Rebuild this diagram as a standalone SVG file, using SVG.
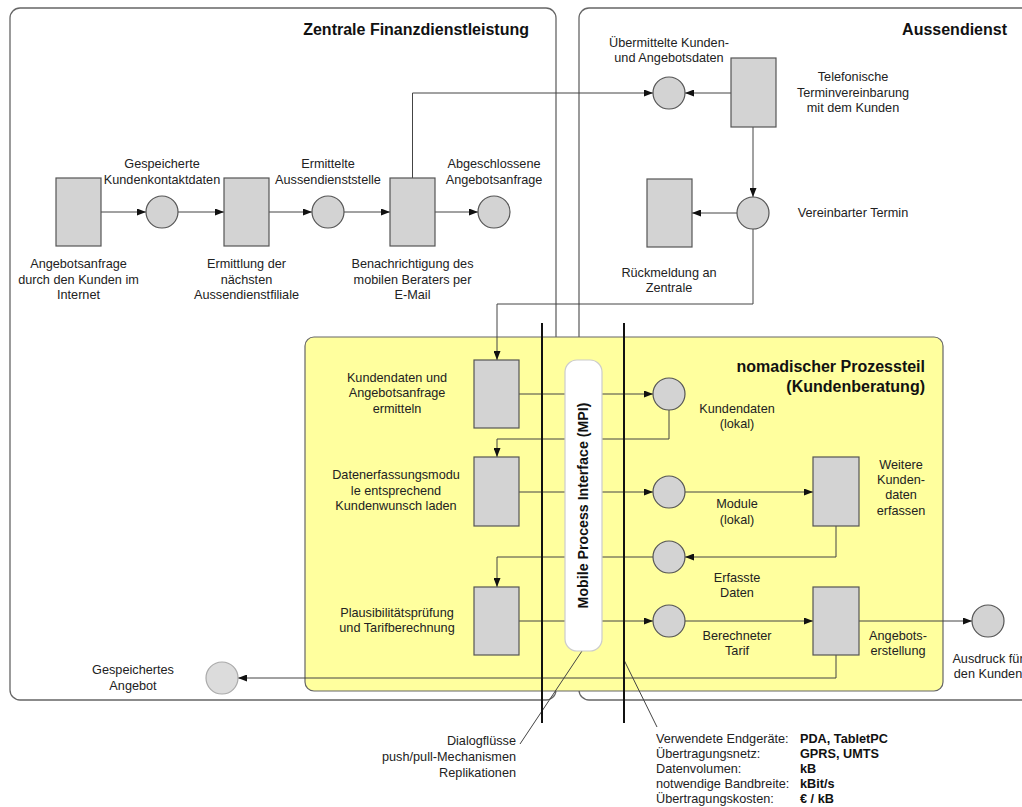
<svg xmlns="http://www.w3.org/2000/svg" width="1022" height="807" viewBox="0 0 1022 807">
<style>
.t{font-family:"Liberation Sans",Arial,sans-serif;font-size:12.7px;fill:#222;text-anchor:middle}
.tl{font-family:"Liberation Sans",Arial,sans-serif;font-size:12.7px;fill:#222}
.tb{font-family:"Liberation Sans",Arial,sans-serif;font-size:12.7px;fill:#111;font-weight:bold}
.title{font-family:"Liberation Sans",Arial,sans-serif;font-size:16px;font-weight:bold;fill:#111;text-anchor:end}
.box{fill:#d3d3d3;stroke:#555;stroke-width:1.2}
.circ{fill:#d3d3d3;stroke:#555;stroke-width:1.2}
.c{fill:none;stroke:#444;stroke-width:1}
.ca{fill:none;stroke:#444;stroke-width:1;marker-end:url(#arr)}
.thick{stroke:#111;stroke-width:2}
.frame{fill:#fff;stroke:#666;stroke-width:1.3}
</style>
<defs>
<marker id="arr" markerUnits="userSpaceOnUse" markerWidth="9" markerHeight="7" refX="9" refY="3.5" orient="auto">
<path d="M0,0 L9,3.5 L0,7 z" fill="#111"/>
</marker>
</defs>
<rect width="1022" height="807" fill="#fff"/>
<g id="zentrale">
<rect class="frame" x="10" y="8" width="546" height="692" rx="10"/>
<text class="title" x="529" y="35">Zentrale Finanzdienstleistung</text>
</g>
<g id="aussendienst">
<rect class="frame" x="579" y="8" width="470" height="692" rx="10"/>
<text class="title" x="1007" y="35">Aussendienst</text>
</g>
<g id="nomadisch">
<rect x="305" y="337" width="638" height="354" rx="9" fill="#ffff9e" stroke="#666" stroke-width="1.2"/>
<text class="title" x="925" y="372">nomadischer Prozessteil</text>
<text class="title" x="925" y="392">(Kundenberatung)</text>
</g>
<g id="connectors">
<line class="ca" x1="101" y1="212" x2="146" y2="212"/>
<line class="ca" x1="178" y1="212" x2="224" y2="212"/>
<line class="ca" x1="269" y1="212" x2="312" y2="212"/>
<line class="ca" x1="344" y1="212" x2="390" y2="212"/>
<line class="ca" x1="435" y1="212" x2="478" y2="212"/>
<polyline class="ca" points="412.5,178 412.5,93 653,93"/>
<line class="ca" x1="731" y1="93" x2="685" y2="93"/>
<line class="ca" x1="753" y1="127" x2="753" y2="197"/>
<line class="ca" x1="737" y1="213" x2="692" y2="213"/>
<polyline class="ca" points="753,229 753,304 497,304 497,360"/>
<line class="ca" x1="519" y1="394" x2="653" y2="394"/>
<polyline class="ca" points="669,410 669,439 497,439 497,457"/>
<line class="ca" x1="519" y1="492" x2="653" y2="492"/>
<line class="ca" x1="685" y1="492" x2="813" y2="492"/>
<polyline class="ca" points="836,526 836,557 685,557"/>
<polyline class="ca" points="653,557 497,557 497,587"/>
<line class="ca" x1="519" y1="621" x2="653" y2="621"/>
<line class="ca" x1="685" y1="621" x2="813" y2="621"/>
<line class="ca" x1="859" y1="621" x2="972" y2="621"/>
<polyline class="ca" points="836,655 836,678 238,678"/>
<line class="c" x1="582" y1="651" x2="520" y2="744"/>
<line class="c" x1="624" y1="660" x2="657" y2="727"/>
</g>
<g id="interfaces">
<line class="thick" x1="542" y1="323" x2="542" y2="723"/>
<line class="thick" x1="624" y1="323" x2="624" y2="723"/>
</g>
<g id="mpi">
<rect x="565" y="360" width="37" height="291" rx="12" fill="#fff" stroke="#ccc" stroke-width="1.2"/>
<text transform="translate(588,505.5) rotate(-90)" text-anchor="middle" font-family="Liberation Sans, Arial, sans-serif" font-size="14.2" font-weight="bold" fill="#111">Mobile Process Interface (MPI)</text>
</g>
<g id="n1">
<rect class="box" x="56" y="178" width="45" height="68"/>
<text class="t" x="78.5" y="268">Angebotsanfrage</text>
<text class="t" x="78.5" y="284">durch den Kunden im</text>
<text class="t" x="78.5" y="299">Internet</text>
</g>
<g id="c1">
<circle class="circ" cx="162" cy="212" r="16"/>
<text class="t" x="162" y="168">Gespeicherte</text>
<text class="t" x="162" y="184">Kundenkontaktdaten</text>
</g>
<g id="n2">
<rect class="box" x="224" y="178" width="45" height="68"/>
<text class="t" x="246.5" y="268">Ermittlung der</text>
<text class="t" x="246.5" y="284">nächsten</text>
<text class="t" x="246.5" y="299">Aussendienstfiliale</text>
</g>
<g id="c2">
<circle class="circ" cx="328" cy="212" r="16"/>
<text class="t" x="328" y="168">Ermittelte</text>
<text class="t" x="328" y="184">Aussendienststelle</text>
</g>
<g id="n3">
<rect class="box" x="390" y="178" width="45" height="68"/>
<text class="t" x="412.5" y="268">Benachrichtigung des</text>
<text class="t" x="412.5" y="284">mobilen Beraters per</text>
<text class="t" x="412.5" y="299">E-Mail</text>
</g>
<g id="c3">
<circle class="circ" cx="494" cy="212" r="16"/>
<text class="t" x="494" y="168">Abgeschlossene</text>
<text class="t" x="494" y="184">Angebotsanfrage</text>
</g>
<g id="c4">
<circle class="circ" cx="669" cy="93" r="16"/>
<text class="t" x="669" y="47">Übermittelte Kunden-</text>
<text class="t" x="669" y="62">und Angebotsdaten</text>
</g>
<g id="n4">
<rect class="box" x="731" y="58" width="45" height="69"/>
<text class="t" x="853" y="81">Telefonische</text>
<text class="t" x="853" y="97">Terminvereinbarung</text>
<text class="t" x="853" y="112">mit dem Kunden</text>
</g>
<g id="c5">
<circle class="circ" cx="753" cy="213" r="16"/>
<text class="t" x="853" y="217">Vereinbarter Termin</text>
</g>
<g id="n5">
<rect class="box" x="647" y="179" width="45" height="68"/>
<text class="t" x="669" y="277">Rückmeldung an</text>
<text class="t" x="669" y="292">Zentrale</text>
</g>
<g id="n6">
<rect class="box" x="474" y="360" width="45" height="68"/>
<text class="t" x="397" y="382">Kundendaten und</text>
<text class="t" x="397" y="397">Angebotsanfrage</text>
<text class="t" x="397" y="413">ermitteln</text>
</g>
<g id="c6">
<circle class="circ" cx="669" cy="394" r="16"/>
<text class="t" x="737" y="413">Kundendaten</text>
<text class="t" x="737" y="428">(lokal)</text>
</g>
<g id="n7">
<rect class="box" x="474" y="457" width="45" height="69"/>
<text class="t" x="396" y="479">Datenerfassungsmodu</text>
<text class="t" x="396" y="495">le entsprechend</text>
<text class="t" x="396" y="510">Kundenwunsch laden</text>
</g>
<g id="c7">
<circle class="circ" cx="669" cy="492" r="16"/>
<text class="t" x="737" y="508">Module</text>
<text class="t" x="737" y="524">(lokal)</text>
</g>
<g id="n8">
<rect class="box" x="813" y="457" width="46" height="69"/>
<text class="t" x="901" y="469">Weitere</text>
<text class="t" x="901" y="484">Kunden-</text>
<text class="t" x="901" y="499">daten</text>
<text class="t" x="901" y="515">erfassen</text>
</g>
<g id="c8">
<circle class="circ" cx="669" cy="557" r="16"/>
<text class="t" x="737" y="582">Erfasste</text>
<text class="t" x="737" y="597">Daten</text>
</g>
<g id="n9">
<rect class="box" x="474" y="587" width="45" height="68"/>
<text class="t" x="397" y="617">Plausibilitätsprüfung</text>
<text class="t" x="397" y="632">und Tarifberechnung</text>
</g>
<g id="c9">
<circle class="circ" cx="669" cy="621" r="16"/>
<text class="t" x="737" y="640">Berechneter</text>
<text class="t" x="737" y="655">Tarif</text>
</g>
<g id="n10">
<rect class="box" x="813" y="587" width="46" height="68"/>
<text class="t" x="898" y="640">Angebots-</text>
<text class="t" x="898" y="655">erstellung</text>
</g>
<g id="c10">
<circle class="circ" cx="988" cy="621" r="16"/>
<text class="t" x="988" y="663">Ausdruck für</text>
<text class="t" x="988" y="678">den Kunden</text>
</g>
<g id="c11">
<circle cx="222" cy="678" r="16" fill="#dcdcdc" stroke="#aaa" stroke-width="1.2"/>
<text class="t" x="133" y="674">Gespeichertes</text>
<text class="t" x="133" y="690">Angebot</text>
</g>
<g id="note-dialog">
<text class="tl" text-anchor="end" x="516" y="745">Dialogflüsse</text>
<text class="tl" text-anchor="end" x="516" y="761">push/pull-Mechanismen</text>
<text class="tl" text-anchor="end" x="516" y="777">Replikationen</text>
</g>
<g id="note-tech">
<text class="tl" x="656" y="743">Verwendete Endgeräte:</text>
<text class="tl" x="656" y="758">Übertragungsnetz:</text>
<text class="tl" x="656" y="773">Datenvolumen:</text>
<text class="tl" x="656" y="788">notwendige Bandbreite:</text>
<text class="tl" x="656" y="803">Übertragungskosten:</text>
<text class="tb" x="800" y="743">PDA, TabletPC</text>
<text class="tb" x="800" y="758">GPRS, UMTS</text>
<text class="tb" x="800" y="773">kB</text>
<text class="tb" x="800" y="788">kBit/s</text>
<text class="tb" x="800" y="803">€ / kB</text>
</g>
</svg>
